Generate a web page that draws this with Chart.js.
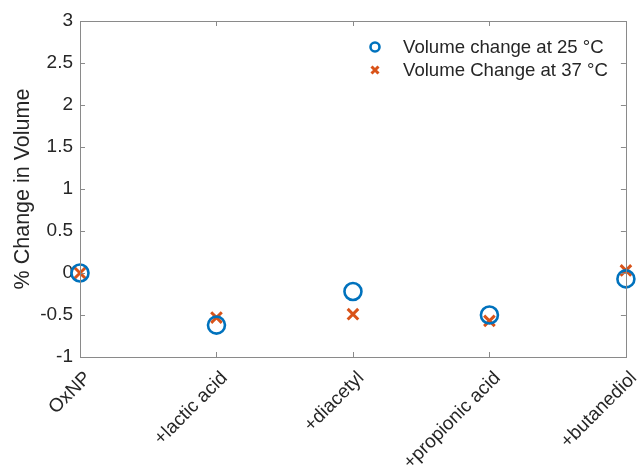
<!DOCTYPE html>
<html>
<head>
<meta charset="utf-8">
<script src="https://cdn.jsdelivr.net/npm/chart.js@4.4.1/dist/chart.umd.min.js"></script>
<style>
  html, body { margin: 0; padding: 0; background: #ffffff; }
  #wrap { width: 637px; height: 472px; }
</style>
</head>
<body>
<div id="wrap"><canvas id="c" width="637" height="472"></canvas></div>
<script>
// Samples and their measured volume change (%)
const categories = ['OxNP', '+lactic acid', '+diacetyl', '+propionic acid', '+butanediol'];
const vol25 = [0.00, -0.62, -0.22, -0.50, -0.07];
const vol37 = [0.00, -0.53, -0.49, -0.57, 0.03];
const seriesLabels = ['Volume change at 25 \u00B0C', 'Volume Change at 37 \u00B0C'];
const yMin = -1, yMax = 3, yStep = 0.5;

const FONT = '"Liberation Sans", Arial, Helvetica, sans-serif';
const TEXT = '#262626';
const AXIS = '#8a8a8a';
const BLUE = '#0072BD';
const ORANGE = '#D95319';

// Box around the plot with inward-pointing tick marks on all four sides
const boxPlugin = {
  id: 'box',
  afterDatasetsDraw(chart) {
    const { ctx, chartArea: a, scales } = chart;
    const len = 5;
    ctx.save();
    ctx.strokeStyle = AXIS;
    ctx.lineWidth = 1;
    ctx.beginPath();
    scales.x.ticks.forEach((t, i) => {
      const px = Math.round(scales.x.getPixelForTick(i)) + 0.5;
      ctx.moveTo(px, a.bottom); ctx.lineTo(px, a.bottom - len);
      ctx.moveTo(px, a.top); ctx.lineTo(px, a.top + len);
    });
    scales.y.ticks.forEach((t) => {
      const py = Math.round(scales.y.getPixelForValue(t.value)) + 0.5;
      ctx.moveTo(a.left, py); ctx.lineTo(a.left + len, py);
      ctx.moveTo(a.right, py); ctx.lineTo(a.right - len, py);
    });
    ctx.stroke();
    ctx.strokeRect(Math.round(a.left) + 0.5, Math.round(a.top) + 0.5,
                   Math.round(a.right - a.left), Math.round(a.bottom - a.top));
    ctx.restore();
  }
};

// Legend in the upper-right corner of the plot
const legendPlugin = {
  id: 'insideLegend',
  afterDraw(chart) {
    const { ctx, chartArea: a } = chart;
    const mx = a.left + 295, tx = a.left + 323;
    const rows = [a.top + 26, a.top + 49];
    ctx.save();
    ctx.font = '18.6px ' + FONT;
    ctx.fillStyle = TEXT;
    ctx.textBaseline = 'middle';
    ctx.textAlign = 'left';
    chart.data.datasets.forEach((ds, i) => {
      const y = rows[i];
      ctx.strokeStyle = ds.borderColor;
      ctx.lineWidth = ds.pointBorderWidth;
      ctx.beginPath();
      if (ds.pointStyle === 'circle') {
        ctx.arc(mx, y, 4.5, 0, Math.PI * 2);
      } else {
        const r = 3.5;
        ctx.moveTo(mx - r, y - r); ctx.lineTo(mx + r, y + r);
        ctx.moveTo(mx - r, y + r); ctx.lineTo(mx + r, y - r);
      }
      ctx.stroke();
      ctx.fillText(ds.label, tx, y + 1);
    });
    ctx.restore();
  }
};

new Chart(document.getElementById('c'), {
  type: 'line',
  data: {
    labels: categories,
    datasets: [
      {
        label: seriesLabels[0],
        data: vol25,
        showLine: false,
        pointStyle: 'circle',
        pointRadius: 8.5,
        pointHoverRadius: 8.5,
        pointBorderWidth: 2.6,
        borderColor: BLUE,
        backgroundColor: 'rgba(0,0,0,0)',
        pointBackgroundColor: 'rgba(0,0,0,0)'
      },
      {
        label: seriesLabels[1],
        data: vol37,
        showLine: false,
        pointStyle: 'crossRot',
        pointRadius: 7.5,
        pointHoverRadius: 7.5,
        pointBorderWidth: 3,
        borderColor: ORANGE,
        backgroundColor: ORANGE
      }
    ]
  },
  options: {
    responsive: false,
    animation: false,
    events: [],
    layout: { padding: { top: 21, right: 10, left: 0, bottom: 0 } },
    plugins: {
      legend: { display: false },
      tooltip: { enabled: false }
    },
    scales: {
      x: {
        type: 'category',
        offset: false,
        grid: { display: false, drawTicks: false },
        border: { display: false },
        ticks: {
          color: TEXT,
          font: { family: FONT, size: 19 },
          minRotation: 45,
          maxRotation: 45,
          padding: 10,
          labelOffset: 8,
          autoSkip: false
        },
        afterFit(scale) {
          scale.height = 115;
          scale.paddingLeft = 0;
          scale.paddingRight = 0;
        }
      },
      y: {
        min: yMin,
        max: yMax,
        grid: { display: false, drawTicks: false },
        border: { display: false },
        ticks: {
          stepSize: yStep,
          color: TEXT,
          font: { family: FONT, size: 19 },
          padding: 7,
          callback: (v) => String(v)
        },
        title: {
          display: true,
          text: '% Change in Volume',
          color: TEXT,
          font: { family: FONT, size: 21.5 },
          padding: { top: 10, bottom: 0 }
        },
        afterFit(scale) {
          scale.width = 80;
          scale.paddingTop = 0;
          scale.paddingBottom = 0;
        }
      }
    }
  },
  plugins: [boxPlugin, legendPlugin]
});
</script>
</body>
</html>
